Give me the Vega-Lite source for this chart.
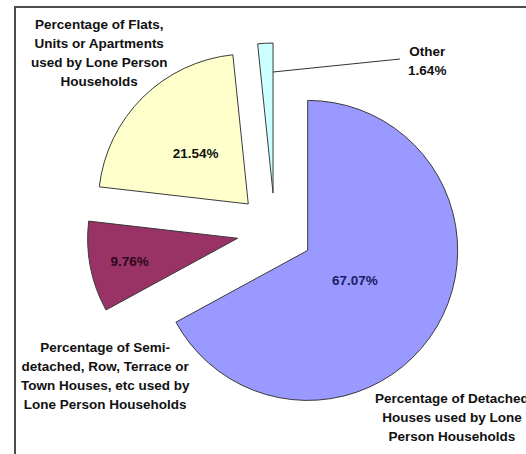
{
  "$schema": "https://vega.github.io/schema/vega-lite/v6.json",
  "width": 526,
  "height": 454,
  "autosize": {"type": "fit", "contains": "padding"},
  "padding": {"left": 15, "top": 7, "right": -9, "bottom": -1},
  "background": "white",
  "config": {"view": {"stroke": "#4d4d4d", "strokeWidth": 2}},
  "data": {
    "values": [
      {"ord": 1, "cat": "Detached", "label": "Percentage of Detached\nHouses used by Lone\nPerson Households", "value": 67.07},
      {"ord": 2, "cat": "Semi", "label": "Percentage of Semi-\ndetached, Row, Terrace or\nTown Houses, etc used by\nLone Person Households", "value": 9.76},
      {"ord": 3, "cat": "Flats", "label": "Percentage of Flats,\nUnits or Apartments\nused by Lone Person\nHouseholds", "value": 21.54},
      {"ord": 4, "cat": "Other", "label": "Other\n1.64%", "value": 1.64}
    ]
  },
  "layer": [
    {
      "mark": {
        "type": "arc",
        "radius": 150,
        "stroke": "#3a3a3a",
        "strokeWidth": 1,
        "xOffset": {"expr": "38*sin((scale('theta', datum.value_start)+scale('theta', datum.value_end))/2)"},
        "yOffset": {"expr": "-38*cos((scale('theta', datum.value_start)+scale('theta', datum.value_end))/2)"}
      },
      "encoding": {
        "theta": {"field": "value", "type": "quantitative", "stack": true},
        "order": {"field": "ord", "type": "quantitative"},
        "color": {
          "field": "cat",
          "type": "nominal",
          "scale": {"domain": ["Detached", "Semi", "Flats", "Other"], "range": ["#9999FF", "#993366", "#FFFFCC", "#CCFFFF"]},
          "legend": null
        }
      }
    },
    {
      "mark": {
        "type": "text",
        "font": "Liberation Sans",
        "fontWeight": "bold",
        "fontSize": 13.5,
        "align": "center",
        "baseline": "middle",
        "dy": 3,
        "radius": {"expr": "datum.cat == 'Detached' ? 93 : datum.cat == 'Semi' ? 148 : 113"},
        "fill": {"expr": "datum.cat == 'Detached' ? '#1c1c66' : datum.cat == 'Semi' ? '#2a0a1a' : '#111111'"},
        "text": {"expr": "datum.cat == 'Other' ? '' : format(datum.value, '.2f') + '%'"}
      },
      "encoding": {
        "theta": {"field": "value", "type": "quantitative", "stack": true},
        "order": {"field": "ord", "type": "quantitative"}
      }
    },
    {
      "mark": {
        "type": "text",
        "font": "Liberation Sans",
        "fontWeight": "bold",
        "fontSize": 13.5,
        "lineHeight": 19,
        "lineBreak": "\n",
        "align": "center",
        "baseline": "middle",
        "fill": "#111111",
        "radius": {"expr": "datum.cat == 'Detached' ? 200 : datum.cat == 'Semi' ? 175 : datum.cat == 'Flats' ? 250 : 170"},
        "dx": {"expr": "datum.cat == 'Detached' ? 5 : datum.cat == 'Semi' ? 2 : datum.cat == 'Other' ? 161 : 0"},
        "dy": {"expr": "datum.cat == 'Detached' ? 66 : datum.cat == 'Semi' ? 84 : datum.cat == 'Flats' ? -28 : -9"}
      },
      "encoding": {
        "theta": {"field": "value", "type": "quantitative", "stack": true},
        "order": {"field": "ord", "type": "quantitative"},
        "text": {"field": "label"}
      }
    },
    {
      "transform": [{"filter": "datum.cat == 'Other'"}],
      "mark": {"type": "rule", "stroke": "#333333", "strokeWidth": 1},
      "encoding": {
        "x": {"value": {"expr": "width/2 - 2"}},
        "y": {"value": {"expr": "height/2 - 159"}},
        "x2": {"value": {"expr": "width/2 + 125"}},
        "y2": {"value": {"expr": "height/2 - 172"}}
      }
    }
  ]
}
